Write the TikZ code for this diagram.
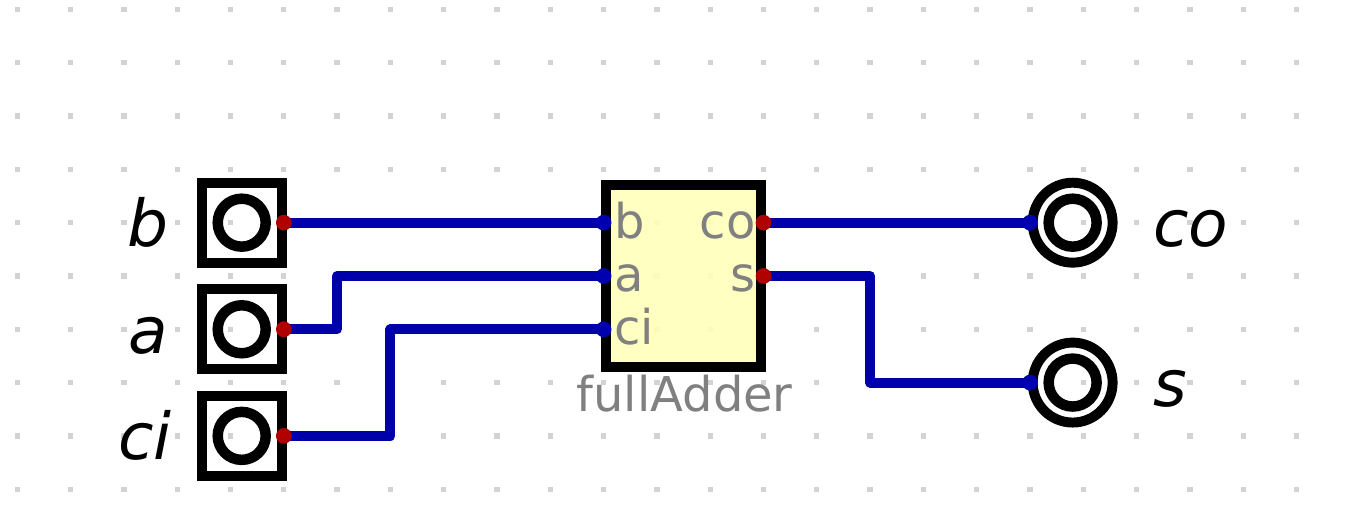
\documentclass[tikz,border=0pt]{standalone}
\usepackage{fontspec}
\setmainfont{DejaVu Sans}
\usepackage{xcolor}
\usetikzlibrary{positioning, backgrounds}
\definecolor{griddot}{HTML}{D3D3D3}
\definecolor{wireblue}{HTML}{0000AA}
\definecolor{pinred}{HTML}{B00000}
\definecolor{pinblue}{HTML}{0000B0}
\definecolor{boxyellow}{HTML}{FFFFBA}
\definecolor{textgray}{HTML}{808080}

\begin{document}
\begin{tikzpicture}[
    x=1cm, y=-1cm,
    every node/.style={inner sep=0pt, outer sep=0pt},
    inbox/.style={draw=black, line width=5.3pt, rectangle, minimum size=1.5cm},
    outring/.style={draw=black, line width=5.3pt, circle, minimum size=1.5cm},
    ioring/.style={draw=black, line width=5.6pt, circle, minimum size=0.9cm},
    chipbox/.style={draw=black, line width=5.3pt, fill=boxyellow, fill opacity=0.9, rectangle, minimum width=2.9cm, minimum height=3.4cm},
    redpin/.style={fill=pinred, circle, minimum size=0.295cm},
    bluepin/.style={fill=pinblue, circle, minimum size=0.295cm},
    wire/.style={draw=wireblue, line width=5.3pt, line join=round},
    iolabel/.style={font=\fontsize{34.5}{34.5}\selectfont\itshape, text=black, text height=0.9cm, text depth=0pt},
    pinlabel/.style={font=\fontsize{25.6}{25.6}\selectfont, text=textgray, text height=0.58cm, text depth=0pt},
    chiplabel/.style={font=\fontsize{25.6}{25.6}\selectfont, text=textgray, text height=0.5cm, text depth=0pt}
]

\useasboundingbox (-0.325,-0.178) rectangle (24.985,9.465);

% Grid and shapes
\begin{scope}[on background layer]
\foreach \row in {0,...,9} {
    \foreach \col in {0,...,24} {
        \fill[griddot] (\col-0.05,\row-0.05) rectangle ++(0.1,0.1);
    }
}
\node[inbox] (inb) at (4.21,4) {};
\node[inbox] (ina) at (4.21,6) {};
\node[inbox] (inci) at (4.21,8) {};
\node[ioring] (inbring) at (inb) {};
\node[ioring] (inaring) at (ina) {};
\node[ioring] (inciring) at (inci) {};

\node[outring] (outco) at (19.8,4) {};
\node[outring] (outs) at (19.8,7) {};
\node[ioring] (outcoring) at (outco) {};
\node[ioring] (outsring) at (outs) {};

\node[chipbox] (fa) at (12.5,5) {};
\end{scope}

% Pins
\node[redpin] (pinb) at (5,4) {};
\node[redpin] (pina) at (5,6) {};
\node[redpin] (pinci) at (5,8) {};
\node[bluepin] (fab) at (11,4) {};
\node[bluepin] (faa) at (11,5) {};
\node[bluepin] (faci) at (11,6) {};
\node[redpin] (faco) at (14,4) {};
\node[redpin] (fas) at (14,5) {};
\node[bluepin] (pinco) at (19,4) {};
\node[bluepin] (pins) at (19,7) {};

% Wire corners
\coordinate (kneea) at (6,5);
\coordinate (kneeci) at (7,6);
\coordinate (kneesa) at (16,5);
\coordinate (kneesb) at (16,7);

% Wires
\begin{scope}[on background layer]
\draw[wire] (pinb.center) -- (fab.center);
\draw[wire] (pina.center) -| (kneea) -- (faa.center);
\draw[wire] (pinci.center) -| (kneeci) -- (faci.center);
\draw[wire] (faco.center) -- (pinco.center);
\draw[wire] (fas.center) -- (kneesa) -- (kneesb) -- (pins.center);
\end{scope}

% Labels
\node[iolabel, left=0.63cm of inb] (lblb) {b};
\node[iolabel, left=0.63cm of ina] (lbla) {a};
\node[iolabel, left=0.56cm of inci] (lblci) {ci};
\node[iolabel, right=0.76cm of outco] (lblco) {co};
\node[iolabel, right=0.76cm of outs] (lbls) {s};

\node[pinlabel, right=0.055cm of fab] (txtb) {b};
\node[pinlabel, right=0.055cm of faa] (txta) {a};
\node[pinlabel, right=0.055cm of faci] (txtci) {ci};
\node[pinlabel, left=0pt of faco] (txtco) {co};
\node[pinlabel, left=0pt of fas] (txts) {s};
\node[chiplabel, below=0.34cm of fa, xshift=0.02cm] (txtfa) {fullAdder};

\end{tikzpicture}
\end{document}
